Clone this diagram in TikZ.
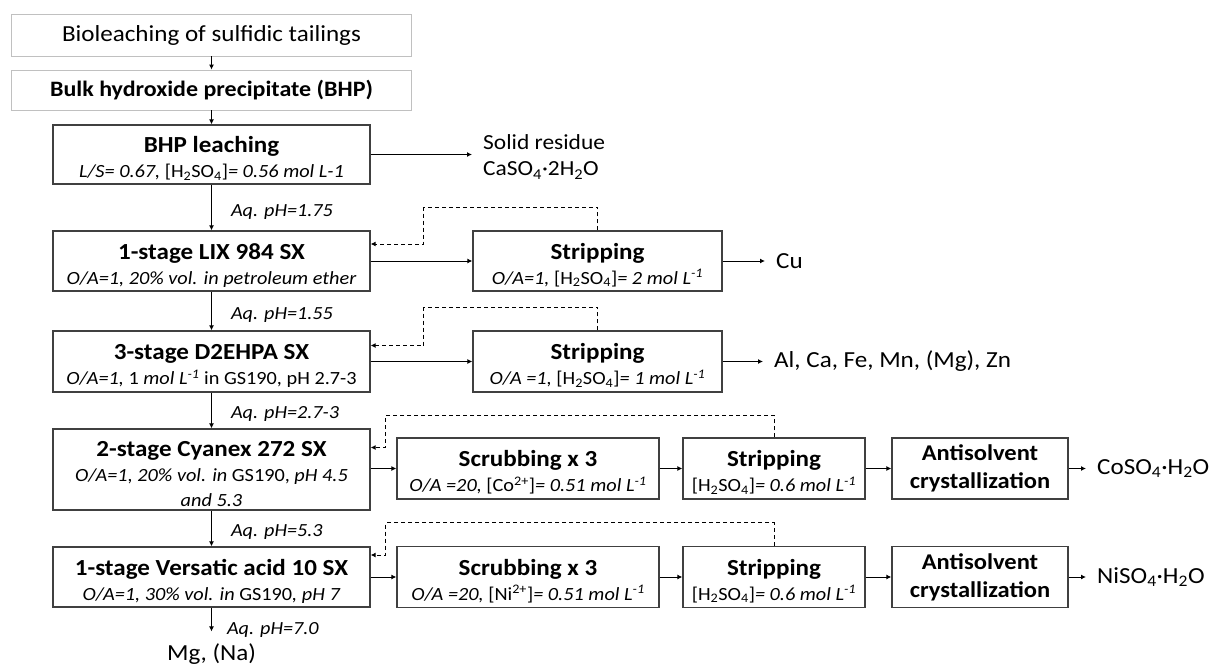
\documentclass[tikz,border=0pt]{standalone}
\usepackage{fontspec}
\setmainfont{Carlito}[FakeStretch=1.09]
\usetikzlibrary{arrows.meta}
\definecolor{framegray}{HTML}{404040}
\definecolor{lightframe}{HTML}{C0C0C0}
\newcommand{\boxtitle}[1]{{\fontsize{23}{25}\selectfont\bfseries\rule{0pt}{24pt}#1}}
\newcommand{\subsc}[1]{\textsubscript{#1}}

\begin{document}
\begin{tikzpicture}[x=1pt, y=-1pt, >={Latex[length=5pt,width=5pt]},
	every node/.style={font=\fontsize{18.6}{25}\selectfont},
	unit/.style={draw=framegray, line width=1.3pt, align=center, inner sep=0pt, minimum height=60pt},
	feed/.style={draw=lightframe, line width=0.8pt, minimum width=400pt, inner sep=0pt, font=\fontsize{23}{26}\selectfont},
	flow/.style={->, line width=1pt},
	recycle/.style={->, line width=1pt, dash pattern=on 4pt off 3pt},
	phlabel/.style={right, pos=0.6, inner sep=0pt, xshift=19pt, font=\fontsize{18.5}{22}\selectfont\itshape},
	product/.style={anchor=west, inner xsep=11pt, inner ysep=0pt, font=\fontsize{23}{27}\selectfont}]
	\useasboundingbox (0,0) rectangle (1217,666);
	% feed
	\node[feed, minimum height=42pt] (bio) at (211.5,35) {Bioleaching of sulfidic tailings};
	\node[feed, minimum height=40pt, font=\fontsize{22}{26}\selectfont\bfseries] (bhp) at (211.5,90) {Bulk hydroxide precipitate (BHP)};
	% main column
	\node[unit, minimum width=317pt, minimum height=59pt] (leach) at (211.5,154.5) {\boxtitle{BHP leaching}\\\textit{L/S= 0.67,} [H\subsc{2}SO\subsc{4}]\textit{= 0.56 mol L-1}};
	\node[unit, minimum width=317pt] (lix) at (211.5,261) {\boxtitle{1-stage LIX 984 SX}\\\textit{O/A=1, 20\% vol. in petroleum ether}};
	\node[unit, minimum width=317pt, minimum height=61pt] (dehpa) at (211.5,361.5) {\boxtitle{3-stage D2EHPA SX}\\\textit{O/A=1,} 1 \textit{mol L\textsuperscript{-1}} in GS190, pH 2.7-3};
	\node[unit, minimum width=317pt, minimum height=81pt] (cyanex) at (211.5,469.5) {\boxtitle{2-stage Cyanex 272 SX}\\\textit{O/A=1, 20\% vol. in} GS190, \textit{pH 4.5}\\\textit{and 5.3}};
	\node[unit, minimum width=317pt] (versatic) at (211.5,577) {\boxtitle{1-stage Versatic acid 10 SX}\\\textit{O/A=1, 30\% vol. in} GS190\textit{, pH 7}};
	\node[inner sep=0pt, inner ysep=12pt, font=\fontsize{23}{27}\selectfont] (mgna) at (211.5,654) {Mg, (Na)};
	% stripping of Cu and impurities
	\node[unit, minimum width=249pt] (stripcu) at (597.5,261) {\boxtitle{Stripping}\\\textit{O/A=1,} [H\subsc{2}SO\subsc{4}]\textit{= 2 mol L\textsuperscript{-1}}};
	\node[unit, minimum width=249pt, minimum height=61pt] (stripimp) at (597.5,361.5) {\boxtitle{Stripping}\\\textit{O/A =1,} [H\subsc{2}SO\subsc{4}]\textit{= 1 mol L\textsuperscript{-1}}};
	\node[product, align=left, font=\fontsize{21.5}{26}\selectfont] (residue) at (472,157) {Solid residue\\CaSO\subsc{4}·2H\subsc{2}O};
	\node[product] (cu) at (765,261) {Cu};
	\node[product] (impur) at (763,361.5) {Al, Ca, Fe, Mn, (Mg), Zn};
	% Co and Ni lines
	\foreach \m/\el/\y in {co/Co/468.5, ni/Ni/577} {
		\node[unit, minimum width=262pt, minimum height=61pt] (scrub\m) at (528,\y) {\boxtitle{Scrubbing x 3}\\\textit{O/A =20,} [\el\textsuperscript{2+}]\textit{= 0.51 mol L\textsuperscript{-1}}};
		\node[unit, minimum width=182pt, minimum height=61pt] (strip\m) at (774,\y) {\boxtitle{Stripping}\\{}[H\subsc{2}SO\subsc{4}]\textit{= 0.6 mol L\textsuperscript{-1}}};
		\node[unit, minimum width=176pt, minimum height=61pt, font=\fontsize{22.5}{28}\selectfont\bfseries] (anti\m) at (980,\y) {Antisolvent\\crystallization};
		\node[product] (prod\m) at (1086,\y) {\el SO\subsc{4}·H\subsc{2}O};
		\draw[flow] (scrub\m) -- (strip\m);
		\draw[flow] (strip\m) -- (anti\m);
		\draw[flow] (anti\m) -- (prod\m);
	}
	% main flow
	\draw[flow] (bio) -- (bhp);
	\draw[flow] (bhp) -- (leach);
	\draw[flow] (leach) -- node[phlabel] {Aq. pH=1.75} (lix);
	\draw[flow] (lix) -- node[phlabel] {Aq. pH=1.55} (dehpa);
	\draw[flow] (dehpa) -- node[phlabel] {Aq. pH=2.7-3} (cyanex);
	\draw[flow] (cyanex) -- node[phlabel] {Aq. pH=5.3} (versatic);
	\draw[flow] (versatic) -- node[phlabel, pos=0.95, xshift=-4pt] {Aq. pH=7.0} (mgna);
	\draw[flow] (leach.east) -- (leach.east -| residue.west);
	\draw[flow] (lix) -- (stripcu);
	\draw[flow] (dehpa) -- (stripimp);
	\draw[flow] (cyanex.east |- scrubco) -- (scrubco);
	\draw[flow] (versatic) -- (scrubni);
	\draw[flow] (stripcu) -- (cu);
	\draw[flow] (stripimp) -- (impur);
	% recycled organic
	\foreach \s/\t/\dx/\dy/\up in {stripcu/lix/53/17/23, stripimp/dehpa/53/16/23, stripco/cyanex/15/22/22, stripni/versatic/15/22/23}
		\draw[recycle] (\s.north) -- ++(0,-\up) -| ([xshift=\dx pt, yshift=\dy pt]\t.east) -- ([yshift=\dy pt]\t.east);
\end{tikzpicture}
\end{document}
